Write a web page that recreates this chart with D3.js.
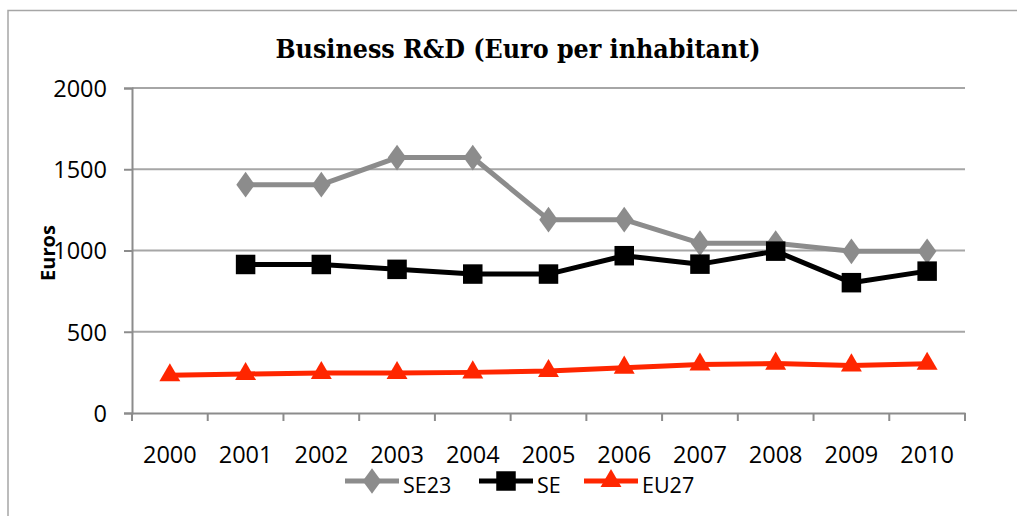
<!DOCTYPE html>
<html>
<head>
<meta charset="utf-8">
<script src="https://cdn.jsdelivr.net/npm/d3@7"></script>
<style>
  body { margin: 0; background: #fff; }
  svg { display: block; }
  .tickText { font-family: "Open Sans", "Liberation Sans", sans-serif; font-size: 23.5px; fill: #000; }
  .legendText { font-family: "Open Sans", "Liberation Sans", sans-serif; font-size: 21.5px; fill: #000; }
</style>
</head>
<body>
<div id="chart"></div>
<script>
// Data
var years = ["2000", "2001", "2002", "2003", "2004", "2005", "2006", "2007", "2008", "2009", "2010"];
var se23 = [null, 1405, 1405, 1572, 1572, 1190, 1190, 1045, 1045, 995, 995];
var se = [null, 914, 914, 884, 855, 855, 968, 916, 996, 802, 873];
var eu27 = [232, 240, 246, 246, 250, 258, 279, 298, 304, 293, 303];
var yTicks = [0, 500, 1000, 1500, 2000];

var svgWidth = 1017;
var svgHeight = 516;
var plot = { left: 132, right: 965, top: 88, bottom: 413 };

var svg = d3.select("#chart")
    .append("svg")
    .attr("width", svgWidth)
    .attr("height", svgHeight);

// Outer frame (only top and left edges are visible)
svg.append("path")
    .attr("d", "M8,516 V10.5 H1017")
    .attr("fill", "none")
    .attr("stroke", "#a6a6a6")
    .attr("stroke-width", 1.5);

// Scales
var xScale = d3.scaleBand()
    .domain(years)
    .range([plot.left, plot.right]);
var yScale = d3.scaleLinear()
    .domain([0, 2000])
    .range([plot.bottom, plot.top]);

// Gridlines
svg.append("g")
    .selectAll("line")
    .data(yTicks.filter(d => d > 0))
    .enter()
    .append("line")
    .attr("x1", plot.left)
    .attr("x2", plot.right)
    .attr("y1", d => yScale(d))
    .attr("y2", d => yScale(d))
    .attr("stroke", "#a6a6a6")
    .attr("stroke-width", 2);

// Y axis
var leftAxis = d3.axisLeft(yScale)
    .tickValues(yTicks)
    .tickFormat(d3.format("d"))
    .tickSize(8)
    .tickPadding(17);
var yAxisG = svg.append("g")
    .attr("transform", `translate(${plot.left}, 0)`)
    .call(leftAxis);
yAxisG.select(".domain").attr("stroke", "#8c8c8c").attr("stroke-width", 2);
yAxisG.selectAll(".tick line").attr("stroke", "#8c8c8c").attr("stroke-width", 2);
yAxisG.selectAll(".tick text").attr("class", "tickText").attr("dy", "0.36em");

// X axis: ticks at category boundaries
var bottomAxis = d3.axisBottom(xScale)
    .tickSize(0)
    .tickPadding(33);
var xAxisG = svg.append("g")
    .attr("transform", `translate(0, ${plot.bottom})`)
    .call(bottomAxis);
xAxisG.select(".domain").attr("stroke", "#8c8c8c").attr("stroke-width", 2);
xAxisG.selectAll(".tick text").attr("class", "tickText").attr("dy", "0.71em");
var boundaries = years.map(d => xScale(d)).concat([plot.right]);
xAxisG.selectAll("line.bound")
    .data(boundaries)
    .enter()
    .append("line")
    .attr("class", "bound")
    .attr("x1", d => d)
    .attr("x2", d => d)
    .attr("y1", 0)
    .attr("y2", 8)
    .attr("stroke", "#8c8c8c")
    .attr("stroke-width", 2);

// Title
svg.append("text")
    .attr("x", 518)
    .attr("y", 58)
    .attr("text-anchor", "middle")
    .style("font-family", "'DejaVu Serif Condensed', 'DejaVu Serif', serif")
    .style("font-weight", "bold")
    .style("font-size", "26.5px")
    .text("Business R&D (Euro per inhabitant)");

// Y axis label
svg.append("text")
    .attr("transform", "translate(55, 253) rotate(-90)")
    .attr("text-anchor", "middle")
    .style("font-family", "'Open Sans', sans-serif")
    .style("font-weight", "bold")
    .style("font-size", "20px")
    .text("Euros");

// Series
var series = [
    { name: "SE23", values: se23, color: "#8c8c8c", symbol: d3.symbolDiamond, size: 190, legendX: 345 },
    { name: "SE", values: se, color: "#000000", symbol: d3.symbolSquare, size: 380, legendX: 479 },
    { name: "EU27", values: eu27, color: "#ff2600", symbol: d3.symbolTriangle, size: 190, legendX: 584 }
];

var xc = d => xScale(d) + xScale.bandwidth() / 2;

var line = d3.line()
    .defined(d => d.v !== null)
    .x(d => xc(d.year))
    .y(d => yScale(d.v));

series.forEach(s => {
    var pts = years.map((y, i) => ({ year: y, v: s.values[i] }));
    var g = svg.append("g");
    g.append("path")
        .datum(pts)
        .attr("d", line)
        .attr("fill", "none")
        .attr("stroke", s.color)
        .attr("stroke-width", 5)
        .attr("stroke-linejoin", "round");
    g.selectAll("path.marker")
        .data(pts.filter(d => d.v !== null))
        .enter()
        .append("path")
        .attr("class", "marker")
        .attr("d", d3.symbol().type(s.symbol).size(s.size))
        .attr("transform", d => `translate(${xc(d.year)}, ${yScale(d.v)})` + (s.symbol === d3.symbolDiamond ? " scale(1.25,1)" : ""))
        .attr("fill", s.color);

    // Legend entry
    var lg = svg.append("g").attr("transform", `translate(${s.legendX}, 481)`);
    lg.append("line")
        .attr("x1", 0).attr("x2", 54)
        .attr("y1", 0).attr("y2", 0)
        .attr("stroke", s.color)
        .attr("stroke-width", 5);
    lg.append("path")
        .attr("d", d3.symbol().type(s.symbol).size(s.size))
        .attr("transform", "translate(27, 0)" + (s.symbol === d3.symbolDiamond ? " scale(1.25,1)" : ""))
        .attr("fill", s.color);
    lg.append("text")
        .attr("class", "legendText")
        .attr("x", 58)
        .attr("y", 12)
        .text(s.name);
});
</script>
</body>
</html>
